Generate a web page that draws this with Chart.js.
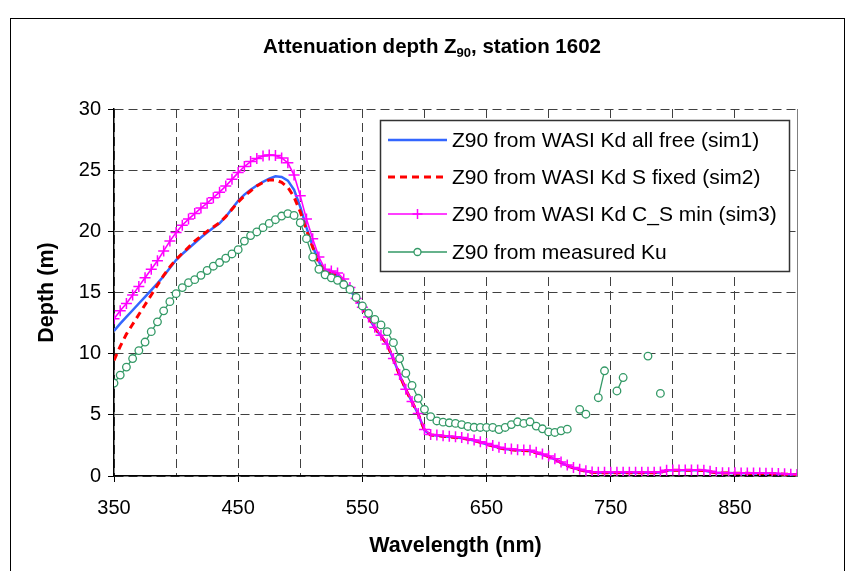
<!DOCTYPE html>
<html><head><meta charset="utf-8">
<script src="https://cdn.jsdelivr.net/npm/chart.js@4.4.1/dist/chart.umd.min.js"></script>
<style>html,body{margin:0;padding:0;background:#fff;}#wrap{position:relative;width:856px;height:571px;}</style>
</head><body><div id="wrap"><canvas id="c" width="856" height="571"></canvas></div>
<script>
const wavelengths = [
 350,355,360,365,370,375,380,385,390,395,
 400,405,410,415,420,425,430,435,440,445,
 450,455,460,465,470,475,480,485,490,495,
 500,505,510,515,520,525,530,535,540,545,
 550,555,560,565,570,575,580,585,590,595,
 600,605,610,615,620,625,630,635,640,645,
 650,655,660,665,670,675,680,685,690,695,
 700,705,710,715,720,725,730,735,740,745,
 750,755,760,765,770,775,780,785,790,795,
 800,805,810,815,820,825,830,835,840,845,
 850,855,860,865,870,875,880,885,890,895,
 900];
const sim1 = [
 11.85,12.45,13.0,13.55,14.1,14.65,15.2,15.75,16.35,17.0,
 17.65,18.15,18.6,19.05,19.5,19.9,20.3,20.65,21.2,21.85,
 22.5,23.0,23.4,23.75,24.05,24.3,24.5,24.45,24.15,23.4,
 22.0,20.3,18.8,17.5,16.7,16.6,16.4,15.9,15.3,14.4,
 13.7,12.95,12.1,11.45,10.75,9.55,8.25,7.05,6.05,5.05,
 3.75,3.35,3.3,3.25,3.2,3.15,3.1,3.0,2.9,2.75,
 2.6,2.45,2.3,2.2,2.15,2.1,2.08,2.05,1.9,1.75,
 1.58,1.35,1.1,0.85,0.65,0.5,0.38,0.3,0.27,0.27,
 0.27,0.27,0.27,0.27,0.27,0.27,0.27,0.27,0.29,0.45,
 0.47,0.47,0.47,0.47,0.47,0.45,0.35,0.25,0.24,0.24,
 0.23,0.22,0.22,0.21,0.21,0.2,0.19,0.17,0.15,0.12,
 0.1];
const sim2 = [
 9.45,10.6,11.6,12.4,13.2,14.0,14.8,15.6,16.4,17.1,
 17.7,18.2,18.7,19.2,19.6,20.0,20.35,20.7,21.2,21.8,
 22.4,22.9,23.3,23.7,24.0,24.2,24.2,24.0,23.6,22.8,
 21.6,20.1,18.7,17.4,16.7,16.6,16.4,15.9,15.3,14.4,
 13.7,12.95,12.1,11.45,10.75,9.55,8.25,7.05,6.05,5.05,
 3.75,3.35,3.3,3.25,3.2,3.15,3.1,3.0,2.9,2.75,
 2.6,2.45,2.3,2.2,2.15,2.1,2.08,2.05,1.9,1.75,
 1.58,1.35,1.1,0.85,0.65,0.5,0.38,0.3,0.27,0.27,
 0.27,0.27,0.27,0.27,0.27,0.27,0.27,0.27,0.29,0.45,
 0.47,0.47,0.47,0.47,0.47,0.45,0.35,0.25,0.24,0.24,
 0.23,0.22,0.22,0.21,0.21,0.2,0.19,0.17,0.15,0.12,
 0.1];
const sim3 = [
 12.85,13.5,14.1,14.8,15.5,16.2,16.9,17.6,18.4,19.2,
 19.9,20.5,21.0,21.45,21.9,22.3,22.75,23.2,23.7,24.25,
 24.8,25.3,25.7,25.95,26.15,26.25,26.2,26.0,25.6,24.6,
 22.9,21.0,19.4,17.9,16.9,16.75,16.6,16.1,15.4,14.5,
 13.8,13.0,12.15,11.5,10.8,9.6,8.3,7.1,6.1,5.1,
 3.8,3.4,3.35,3.3,3.25,3.2,3.15,3.05,2.95,2.8,
 2.65,2.5,2.35,2.25,2.2,2.15,2.12,2.1,1.95,1.8,
 1.63,1.4,1.15,0.9,0.7,0.55,0.42,0.33,0.3,0.3,
 0.3,0.3,0.3,0.3,0.3,0.3,0.3,0.3,0.32,0.48,
 0.5,0.5,0.5,0.5,0.5,0.48,0.38,0.28,0.27,0.27,
 0.26,0.25,0.25,0.24,0.24,0.23,0.22,0.2,0.18,0.15,
 0.12];
const measured = [
 7.6,8.25,8.9,9.6,10.25,10.95,11.8,12.6,13.5,14.25,
 14.9,15.4,15.8,16.05,16.4,16.8,17.15,17.45,17.8,18.15,
 18.5,19.2,19.65,19.95,20.3,20.65,20.95,21.25,21.45,21.3,
 20.7,19.4,17.9,16.9,16.45,16.2,16.0,15.65,15.25,14.6,
 13.9,13.3,12.8,12.35,11.8,10.9,9.6,8.4,7.4,6.35,
 5.45,4.85,4.5,4.4,4.35,4.3,4.2,4.05,3.98,3.97,
 3.97,3.97,3.8,3.97,4.2,4.43,4.3,4.43,4.08,3.86,
 3.6,3.56,3.7,3.83,null,5.45,5.05,null,6.4,8.6,
 null,6.95,8.05,null,null,null,9.8,null,6.75,null,
 null,null,null,null,null,null,null,null,null,null,
 null,null,null,null,null,null,null,null,null,null,
 null];
const seriesLabels = [
 'Z90 from WASI Kd all free (sim1)',
 'Z90 from WASI Kd S fixed (sim2)',
 'Z90 from WASI Kd C_S min (sim3)',
 'Z90 from measured Ku'];
const xTickLabels = [350,450,550,650,750,850];
const yTickLabels = [0,5,10,15,20,25,30];
const titleParts = ['Attenuation depth Z','90',', station 1602'];
const xTitle = 'Wavelength (nm)';
const yTitle = 'Depth (m)';

const FONT = "'Liberation Sans', Arial, Helvetica, sans-serif";
Chart.defaults.font.family = FONT;
const toXY = arr => wavelengths.map((w,i)=>({x:w,y:arr[i]}));
const COLORS = ['#3366ff','#ff0000','#ff00ff','#339966'];

const decor = {
  id:'decor',
  afterDraw(chart){
    const ctx = chart.ctx, a = chart.chartArea;
    ctx.save();
    ctx.strokeStyle = '#808080'; ctx.lineWidth = 1;
    ctx.beginPath(); ctx.moveTo(a.right+0.5, a.top); ctx.lineTo(a.right+0.5, a.bottom); ctx.stroke();
    ctx.strokeStyle = '#000'; ctx.lineWidth = 1;
    ctx.strokeRect(10.5, 18.5, 834, 620);
    ctx.fillStyle = '#000'; ctx.textBaseline = 'alphabetic';
    ctx.font = 'bold 20.5px ' + FONT;
    const w1 = ctx.measureText(titleParts[0]).width;
    const w3 = ctx.measureText(titleParts[2]).width;
    ctx.font = 'bold 13px ' + FONT;
    const w2 = ctx.measureText(titleParts[1]).width;
    const tx = 432 - (w1+w2+w3)/2, ty = 53;
    ctx.textAlign = 'left';
    ctx.font = 'bold 20.5px ' + FONT; ctx.fillText(titleParts[0], tx, ty);
    ctx.font = 'bold 13px ' + FONT; ctx.fillText(titleParts[1], tx+w1, ty+4);
    ctx.font = 'bold 20.5px ' + FONT; ctx.fillText(titleParts[2], tx+w1+w2, ty);
    ctx.font = 'bold 21.5px ' + FONT; ctx.textAlign = 'center'; ctx.textBaseline = 'middle';
    ctx.fillText(xTitle, (a.left+a.right)/2, 546);
    ctx.save(); ctx.translate(47, (a.top+a.bottom)/2); ctx.rotate(-Math.PI/2);
    ctx.fillText(yTitle, 0, 0); ctx.restore();
    const lx = 380, ly = 120, lw = 409, lh = 151;
    ctx.fillStyle = '#fff'; ctx.fillRect(lx, ly, lw, lh);
    ctx.strokeStyle = '#333'; ctx.lineWidth = 1.5; ctx.strokeRect(lx+0.5, ly+0.5, lw, lh);
    const rows = [140, 177, 214, 252];
    const ds = chart.data.datasets;
    ctx.font = '21px ' + FONT; ctx.textAlign = 'left'; ctx.textBaseline = 'middle';
    rows.forEach((ry, i) => {
      const d = ds[i];
      ctx.save();
      ctx.strokeStyle = d.borderColor; ctx.lineWidth = d.borderWidth;
      ctx.setLineDash(d.borderDash || []);
      ctx.beginPath(); ctx.moveTo(388, ry); ctx.lineTo(447, ry); ctx.stroke();
      ctx.setLineDash([]);
      if (i === 2) {
        ctx.lineWidth = 1.5; ctx.beginPath();
        ctx.moveTo(417.5, ry-5); ctx.lineTo(417.5, ry+5); ctx.moveTo(412.5, ry); ctx.lineTo(422.5, ry); ctx.stroke();
      } else if (i === 3) {
        ctx.fillStyle = '#fff'; ctx.lineWidth = 1.3; ctx.beginPath();
        ctx.arc(417.5, ry, 3.5, 0, Math.PI*2); ctx.fill(); ctx.stroke();
      }
      ctx.restore();
      ctx.fillStyle = '#000';
      ctx.fillText(d.label, 452, ry+1);
    });
    ctx.restore();
  }
};

new Chart(document.getElementById('c'), {
  type: 'line',
  data: {
    datasets: [
      {label: seriesLabels[0], data: toXY(sim1), borderColor: COLORS[0], borderWidth: 2.5, pointRadius: 0, order: 4},
      {label: seriesLabels[1], data: toXY(sim2), borderColor: COLORS[1], borderWidth: 3, borderDash: [7,5], pointRadius: 0, order: 3},
      {label: seriesLabels[2], data: toXY(sim3), borderColor: COLORS[2], borderWidth: 1.6, pointStyle: 'cross', pointRadius: 5.5, pointBorderColor: COLORS[2], pointBorderWidth: 1.5, order: 2},
      {label: seriesLabels[3], data: toXY(measured), borderColor: COLORS[3], borderWidth: 1.3, pointStyle: 'circle', pointRadius: 3.8, pointBackgroundColor: '#fff', pointBorderColor: COLORS[3], pointBorderWidth: 1.3, spanGaps: false, order: 1}
    ]
  },
  options: {
    responsive: false, animation: false, devicePixelRatio: 1,
    layout: {padding: {left: 0, right: 59, top: 109, bottom: 0}},
    plugins: {legend: {display: false}, title: {display: false}, tooltip: {enabled: false}},
    elements: {line: {tension: 0}},
    scales: {
      x: {
        type: 'linear', min: 350, max: 900,
        afterFit(s){ s.height = 95; },
        ticks: {stepSize: 50, autoSkip: false, maxRotation: 0, padding: 14, color: '#000', font: {size: 20},
          callback: v => xTickLabels.includes(v) ? String(v) : ''},
        grid: {color: '#404040', lineWidth: 1, drawTicks: true, tickLength: 6,
          tickColor: c => (c.tick && xTickLabels.includes(c.tick.value)) ? '#000' : 'rgba(0,0,0,0)', tickBorderDash: []},
        border: {display: true, color: '#000', width: 1.5, dash: [9,5]}
      },
      y: {
        min: 0, max: 30,
        afterFit(s){ s.width = 114; },
        ticks: {stepSize: 5, padding: 7, color: '#000', font: {size: 20},
          callback: v => yTickLabels.includes(v) ? String(v) : ''},
        grid: {color: '#404040', lineWidth: 1, drawTicks: true, tickLength: 6, tickColor: '#000', tickBorderDash: []},
        border: {display: true, color: '#000', width: 1.5, dash: [9,5]}
      }
    }
  },
  plugins: [decor]
});
</script></body></html>
